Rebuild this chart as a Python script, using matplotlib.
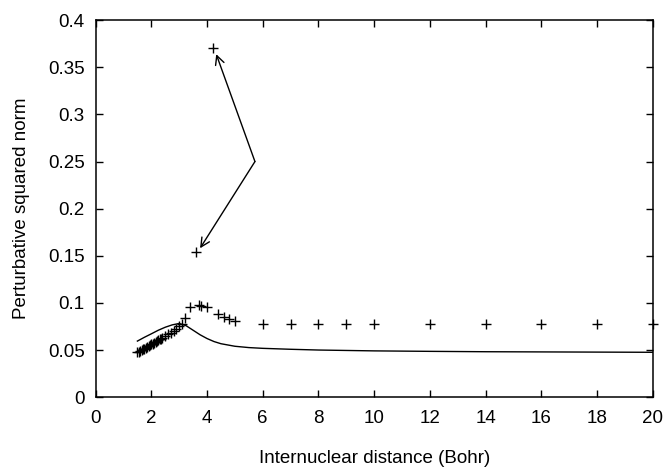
import matplotlib
matplotlib.use("Agg")
import matplotlib.pyplot as plt

plt.rcParams['font.family'] = ['Liberation Sans', 'DejaVu Sans']

# computed points (crosses)
pts_x = [1.50, 1.55, 1.60, 1.65, 1.70, 1.75, 1.80, 1.85, 1.90, 1.95,
         2.00, 2.05, 2.10, 2.15, 2.20, 2.25, 2.30, 2.35, 2.40,
         2.50, 2.60, 2.70, 2.80, 2.90, 3.00, 3.10, 3.20, 3.40, 3.60,
         3.70, 3.80, 4.00, 4.20, 4.40, 4.60, 4.80, 5.00,
         6, 7, 8, 9, 10, 12, 14, 16, 18, 20]
pts_y = [0.0475, 0.0482, 0.0490, 0.0499, 0.0508, 0.0516, 0.0525, 0.0534,
         0.0543, 0.0551, 0.0560, 0.0569, 0.0578, 0.0587, 0.0596, 0.0605,
         0.0614, 0.0622, 0.0630,
         0.0648, 0.0665, 0.0682, 0.0700, 0.0722, 0.0750, 0.0780, 0.0835,
         0.0958, 0.1535, 0.0980, 0.0965, 0.0955, 0.3700, 0.0882, 0.0855,
         0.0833, 0.0810,
         0.0780, 0.0780, 0.0780, 0.0780, 0.0780, 0.0780, 0.0780, 0.0780,
         0.0780, 0.0780]

# reference curve (solid line)
curve_x = [1.5, 1.75, 2.0, 2.25, 2.5, 2.75, 3.0, 3.25, 3.5, 3.75, 4.0,
           4.25, 4.5, 5.0, 5.5, 6.0, 7.0, 8.0, 10.0, 12.0, 14.0, 16.0,
           18.0, 20.0]
curve_y = [0.0595, 0.0635, 0.0672, 0.0710, 0.0742, 0.0767, 0.0782, 0.0758,
           0.0710, 0.0662, 0.0622, 0.0590, 0.0567, 0.0540, 0.0526, 0.0518,
           0.0508, 0.0500, 0.0491, 0.0486, 0.0482, 0.0480, 0.0478, 0.0476]

# arrow from the elbow to the two outliers
elbow = (5.72, 0.250)
arrow_tips = [(4.33, 0.364), (3.75, 0.158)]

fig, ax = plt.subplots(figsize=(6.64, 4.70), dpi=100)
fig.subplots_adjust(left=0.144, right=0.983, bottom=0.155, top=0.957)

ax.plot(curve_x, curve_y, color='black', lw=1.0)
ax.plot(pts_x, pts_y, linestyle='none', marker='+', color='black',
        markersize=7, markeredgewidth=1.0, clip_on=False)

for tip in arrow_tips:
    ax.annotate('', xy=tip, xytext=elbow,
                arrowprops=dict(arrowstyle='->', color='black', lw=1.0,
                                mutation_scale=16, shrinkA=0, shrinkB=0))

ax.set_xlim(0, 20)
ax.set_ylim(0, 0.4)
ax.set_xticks(range(0, 21, 2))
ax.set_yticks([0, 0.05, 0.1, 0.15, 0.2, 0.25, 0.3, 0.35, 0.4])
ax.set_yticklabels(['0', '0.05', '0.1', '0.15', '0.2', '0.25', '0.3', '0.35', '0.4'])
ax.tick_params(direction='in', top=True, right=True, length=5, width=1,
               labelsize=13.5)
ax.tick_params(axis='x', pad=9)
ax.tick_params(axis='y', pad=8)
for s in ax.spines.values():
    s.set_linewidth(1.1)

ax.set_xlabel("Internuclear distance (Bohr)", fontsize=13.5, labelpad=17)
ax.set_ylabel("Perturbative squared norm", fontsize=13.5, labelpad=13)

fig.savefig("out.png", dpi=100)
